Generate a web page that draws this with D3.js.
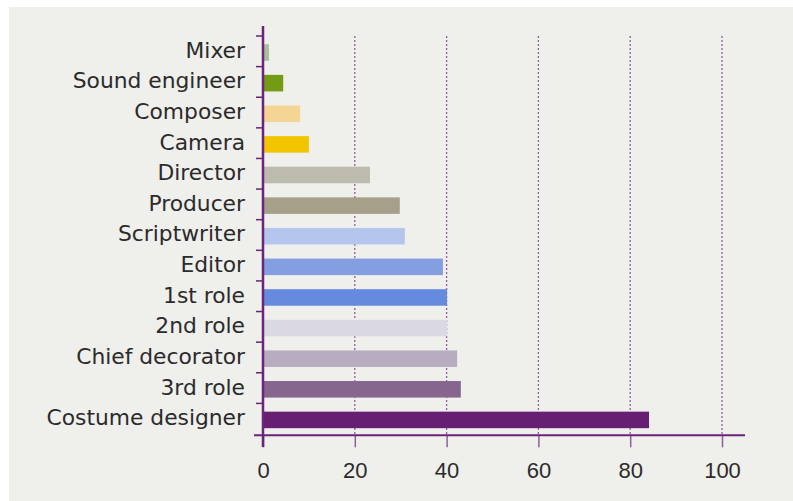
<!DOCTYPE html>
<html>
<head>
<meta charset="utf-8">
<script src="https://cdn.jsdelivr.net/npm/d3@7"></script>
<style>
  html, body { margin: 0; padding: 0; background: #ffffff; }
  svg { display: block; }
</style>
</head>
<body>
<svg id="chart" width="793" height="501"></svg>
<script>
// Roles, in display order from top to bottom
const roles = ["Mixer", "Sound engineer", "Composer", "Camera", "Director", "Producer",
  "Scriptwriter", "Editor", "1st role", "2nd role", "Chief decorator", "3rd role", "Costume designer"];
// Share per role
const values = [1.3, 4.4, 8.1, 10.0, 23.3, 29.8, 30.9, 39.2, 40.1, 40.1, 42.3, 43.1, 84.1];
// Bar colours per role
const colors = ["#a9c09a", "#739b13", "#f5d594", "#f2c500", "#bcbbae", "#a69f89",
  "#b4c5ee", "#849fdf", "#668ade", "#dad8e3", "#b7adbf", "#86668f", "#671f74"];
// Value axis ticks
const xTicks = [0, 20, 40, 60, 80, 100];

const svg = d3.select("#chart");
const axisColor = "#6a2479";
const gridColor = "#8f5f9d";

// Panel background
svg.append("rect").attr("x", 9).attr("y", 7).attr("width", 784).attr("height", 494)
  .attr("fill", "#efefeb");

const x = d3.scaleLinear().domain([0, 100]).range([263, 722]);
const y = d3.scaleBand().domain(roles).range([36, 434]).padding(0);
const axisY = 435.3;

// Dotted vertical gridlines
svg.append("g").selectAll("line").data(xTicks.filter(d => d > 0)).join("line")
  .attr("x1", d => x(d)).attr("x2", d => x(d))
  .attr("y1", 36).attr("y2", axisY)
  .attr("stroke", gridColor).attr("stroke-width", 1.3)
  .attr("stroke-dasharray", "2,2");

// Bars
const bw = y.bandwidth();
svg.append("g").selectAll("rect").data(roles).join("rect")
  .attr("x", x(0))
  .attr("y", d => y(d) + bw * 0.27)
  .attr("width", (d, i) => x(values[i]) - x(0))
  .attr("height", bw * 0.54)
  .attr("fill", (d, i) => colors[i]);

// Bottom axis: ticks hang below the baseline
const xAxis = d3.axisBottom(x).tickValues(xTicks).tickSize(12).tickPadding(15)
  .tickFormat(d3.format("d"));
const gx = svg.append("g").attr("transform", `translate(0,${axisY})`).call(xAxis);
gx.select(".domain").remove();
gx.selectAll(".tick line").attr("stroke", gridColor).attr("stroke-width", 1.5);
gx.selectAll(".tick text")
  .attr("fill", "#2b2b2b")
  .style("font-family", "'Liberation Sans', Arial, sans-serif")
  .style("font-size", "22px");
svg.append("line").attr("x1", 254).attr("x2", 745).attr("y1", axisY).attr("y2", axisY)
  .attr("stroke", axisColor).attr("stroke-width", 2);

// Left axis: category labels centred on bands, ticks on band boundaries
const yAxis = d3.axisLeft(y).tickSize(0).tickPadding(18);
const gy = svg.append("g").attr("transform", `translate(${x(0)},-0.5)`).call(yAxis);
gy.select(".domain").remove();
gy.selectAll(".tick text")
  .attr("fill", "#2b2b2b")
  .style("font-family", "'DejaVu Sans', sans-serif")
  .style("font-size", "21.8px");

svg.append("g").selectAll("line").data(roles).join("line")
  .attr("x1", 256).attr("x2", x(0))
  .attr("y1", d => y(d)).attr("y2", d => y(d))
  .attr("stroke", axisColor).attr("stroke-width", 1.5);

svg.append("line").attr("x1", x(0)).attr("x2", x(0)).attr("y1", 26).attr("y2", 447)
  .attr("stroke", axisColor).attr("stroke-width", 2.5);
</script>
</body>
</html>
